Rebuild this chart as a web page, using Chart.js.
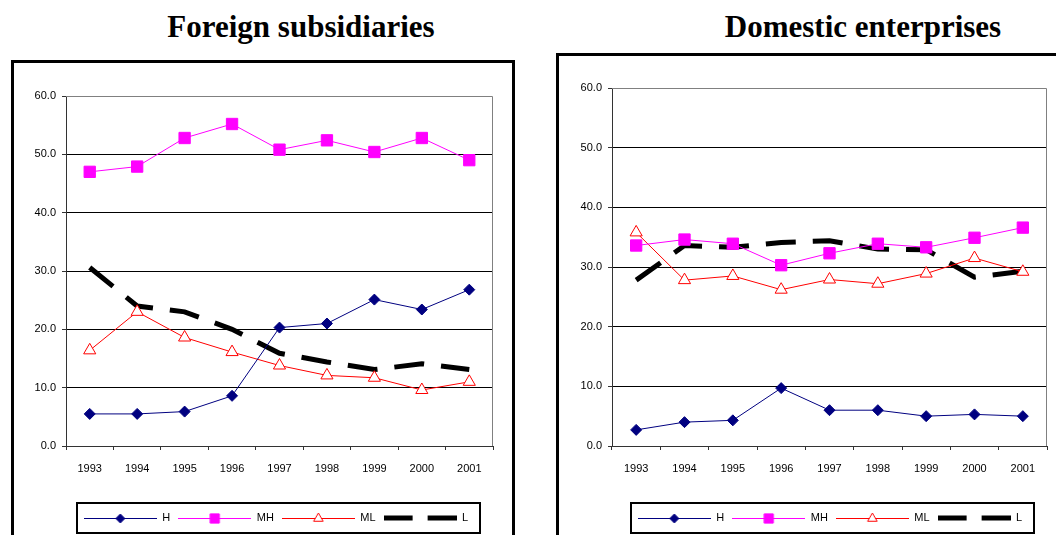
<!DOCTYPE html>
<html>
<head>
<meta charset="utf-8">
<title>Foreign subsidiaries / Domestic enterprises</title>
<script src="https://cdn.jsdelivr.net/npm/chart.js@4.4.0/dist/chart.umd.min.js"></script>
<style>
  body {
    margin: 0;
    width: 1056px;
    height: 535px;
    overflow: hidden;
    background: #fff;
    position: relative;
  }
  .title {
    position: absolute;
    top: 11px;
    width: 400px;
    text-align: center;
    font: bold 31px "Liberation Serif", "Times New Roman", serif;
    line-height: 31px;
    color: #000;
  }
  .frame {
    position: absolute;
    border: 3px solid #000;
    box-sizing: border-box;
  }
  canvas {
    position: absolute;
  }
</style>
</head>
<body>
<div class="title" style="left:101px">Foreign subsidiaries</div>
<div class="title" style="left:663px">Domestic enterprises</div>
<div class="frame" style="left:11px;top:60px;width:504px;height:520px"></div>
<div class="frame" style="left:556px;top:53px;width:520px;height:520px"></div>
<canvas id="foreignChart" width="497" height="472" style="left:14px;top:63px"></canvas>
<canvas id="domesticChart" width="497" height="479" style="left:559px;top:56px"></canvas>

<script>
// Data
const years = ["1993", "1994", "1995", "1996", "1997", "1998", "1999", "2000", "2001"];
const seriesNames = ["H", "MH", "ML", "L"];

const foreignH = [5.5, 5.5, 5.9, 8.6, 20.3, 21.0, 25.1, 23.4, 26.8];
const foreignMH = [47.0, 47.9, 52.8, 55.2, 50.8, 52.4, 50.4, 52.8, 49.0];
const foreignML = [16.4, 23.0, 18.6, 16.1, 13.8, 12.1, 11.7, 9.6, 11.0];
const foreignL = [30.6, 24.0, 23.0, 20.0, 15.9, 14.4, 13.1, 14.1, 13.1];

const domesticH = [2.7, 4.0, 4.3, 9.7, 6.0, 6.0, 5.0, 5.3, 5.0];
const domesticMH = [33.6, 34.6, 33.9, 30.3, 32.3, 33.9, 33.3, 34.9, 36.6];
const domesticML = [35.8, 27.8, 28.5, 26.2, 27.9, 27.2, 28.9, 31.5, 29.2];
const domesticL = [27.8, 33.6, 33.3, 34.1, 34.4, 33.0, 32.9, 28.3, 29.3];

const yMin = 0;
const yMax = 60;
const yStep = 10;

// Series styles
const navy = "#000080";
const magenta = "#ff00ff";
const red = "#ff0000";

Chart.defaults.font.family = "Arial, 'Liberation Sans', sans-serif";
Chart.defaults.color = "#000";

// Small canvas used as the legend symbol (line with marker in the middle)
function legendIcon(color, marker, radius, fill, dashed) {
  const c = document.createElement("canvas");
  c.width = 73;
  c.height = 14;
  const g = c.getContext("2d");
  g.strokeStyle = color;
  if (dashed) {
    g.lineWidth = 5;
    g.beginPath();
    g.moveTo(0, 7);
    g.lineTo(29, 7);
    g.moveTo(44, 7);
    g.lineTo(73, 7);
    g.stroke();
    return c;
  }
  g.lineWidth = 1;
  g.beginPath();
  g.moveTo(0, 7.5);
  g.lineTo(73, 7.5);
  g.stroke();
  g.fillStyle = fill;
  Chart.helpers.drawPoint(g, { pointStyle: marker, radius: radius, borderWidth: 1, rotation: 0 }, 36.5, 7.5);
  return c;
}

const icons = [
  legendIcon(navy, "rectRot", 4.5, navy, false),
  legendIcon(magenta, "rect", 6.5, magenta, false),
  legendIcon(red, "triangle", 5.5, "#fff", false),
  legendIcon("#000", null, 0, null, true),
];

function buildDatasets(h, mh, ml, l) {
  return [
    {
      label: seriesNames[0],
      data: h,
      borderColor: navy,
      borderWidth: 1,
      pointStyle: "rectRot",
      pointRadius: 5.5,
      pointBackgroundColor: navy,
      pointBorderColor: navy,
      pointBorderWidth: 1,
    },
    {
      label: seriesNames[1],
      data: mh,
      borderColor: magenta,
      borderWidth: 1,
      pointStyle: "rect",
      pointRadius: 8,
      pointBackgroundColor: magenta,
      pointBorderColor: magenta,
      pointBorderWidth: 1,
    },
    {
      label: seriesNames[2],
      data: ml,
      borderColor: red,
      borderWidth: 1,
      pointStyle: "triangle",
      pointRadius: 7,
      pointBackgroundColor: "#fff",
      pointBorderColor: red,
      pointBorderWidth: 1,
    },
    {
      label: seriesNames[3],
      data: l,
      borderColor: "#000",
      borderWidth: 5,
      borderDash: [30, 17],
      borderCapStyle: "butt",
      pointRadius: 0,
    },
  ];
}

// Grey plot border (top + right), legend shift and the boxed legend
const plotFrame = {
  id: "plotFrame",
  afterLayout(chart, args, opts) {
    // move the legend sideways, the box is not centred on the canvas
    const shift = opts.legendShift || 0;
    chart.legend.left += shift;
    chart.legend.right += shift;
  },
  beforeDatasetsDraw(chart) {
    const { ctx, chartArea: a } = chart;
    ctx.save();
    ctx.strokeStyle = "#808080";
    ctx.lineWidth = 1;
    ctx.beginPath();
    ctx.moveTo(a.left, a.top + 0.5);
    ctx.lineTo(a.right - 0.5, a.top + 0.5);
    ctx.lineTo(a.right - 0.5, a.bottom);
    ctx.stroke();
    ctx.restore();
  },
  afterDraw(chart) {
    const ctx = chart.ctx;
    const boxes = chart.legend.legendHitBoxes;
    if (!boxes || !boxes.length) return;
    const first = boxes[0];
    const last = boxes[boxes.length - 1];
    const left = first.left - 7;
    const right = last.left + last.width + 12;
    ctx.save();
    ctx.strokeStyle = "#000";
    ctx.lineWidth = 2;
    ctx.strokeRect(Math.round(left), Math.round(first.top - 9.5), Math.round(right - left), 30);
    ctx.restore();
  },
};

function makeChart(id, datasets, pad, yWidth, legendShift) {
  const ctx = document.getElementById(id);
  return new Chart(ctx, {
    type: "line",
    data: { labels: years, datasets: datasets },
    plugins: [plotFrame],
    options: {
      responsive: false,
      animation: false,
      events: [],
      layout: { padding: pad },
      elements: { line: { tension: 0, fill: false } },
      plugins: {
        plotFrame: { legendShift: legendShift },
        tooltip: { enabled: false },
        legend: {
          position: "bottom",
          labels: {
            usePointStyle: true,
            pointStyleWidth: 73,
            padding: 8,
            color: "#000",
            font: { size: 11 },
            generateLabels: function (chart) {
              const items = Chart.defaults.plugins.legend.labels.generateLabels(chart);
              items.forEach((item, i) => {
                item.pointStyle = icons[i];
              });
              return items;
            },
          },
        },
      },
      scales: {
        x: {
          offset: true,
          afterFit: (axis) => {
            axis.height = 58.5;
          },
          grid: {
            offset: true,
            drawOnChartArea: false,
            drawTicks: true,
            tickLength: 4,
            tickColor: "#333",
          },
          border: { color: "#333", width: 1 },
          ticks: {
            padding: 12,
            maxRotation: 0,
            autoSkip: false,
            font: { size: 11 },
            color: "#000",
          },
        },
        y: {
          min: yMin,
          max: yMax,
          afterFit: (axis) => {
            axis.width = yWidth;
          },
          grid: {
            color: (c) =>
              c.tick && (c.tick.value === yMin || c.tick.value === yMax) ? "rgba(0,0,0,0)" : "#000",
            tickColor: "#333",
            tickLength: 4,
          },
          border: { color: "#333", width: 1 },
          ticks: {
            stepSize: yStep,
            padding: 6,
            font: { size: 11 },
            color: "#000",
            callback: function (value) {
              return Number(value).toFixed(1);
            },
          },
        },
      },
    },
  });
}

document.addEventListener("DOMContentLoaded", function () {
  makeChart(
    "foreignChart",
    buildDatasets(foreignH, foreignMH, foreignML, foreignL),
    { left: 0, right: 18, top: 33, bottom: 1.5 },
    52,
    22.5
  );
  makeChart(
    "domesticChart",
    buildDatasets(domesticH, domesticMH, domesticML, domesticL),
    { left: 0, right: 6, top: 32, bottom: 1.5 },
    53,
    25.5
  );
});
</script>
</body>
</html>
